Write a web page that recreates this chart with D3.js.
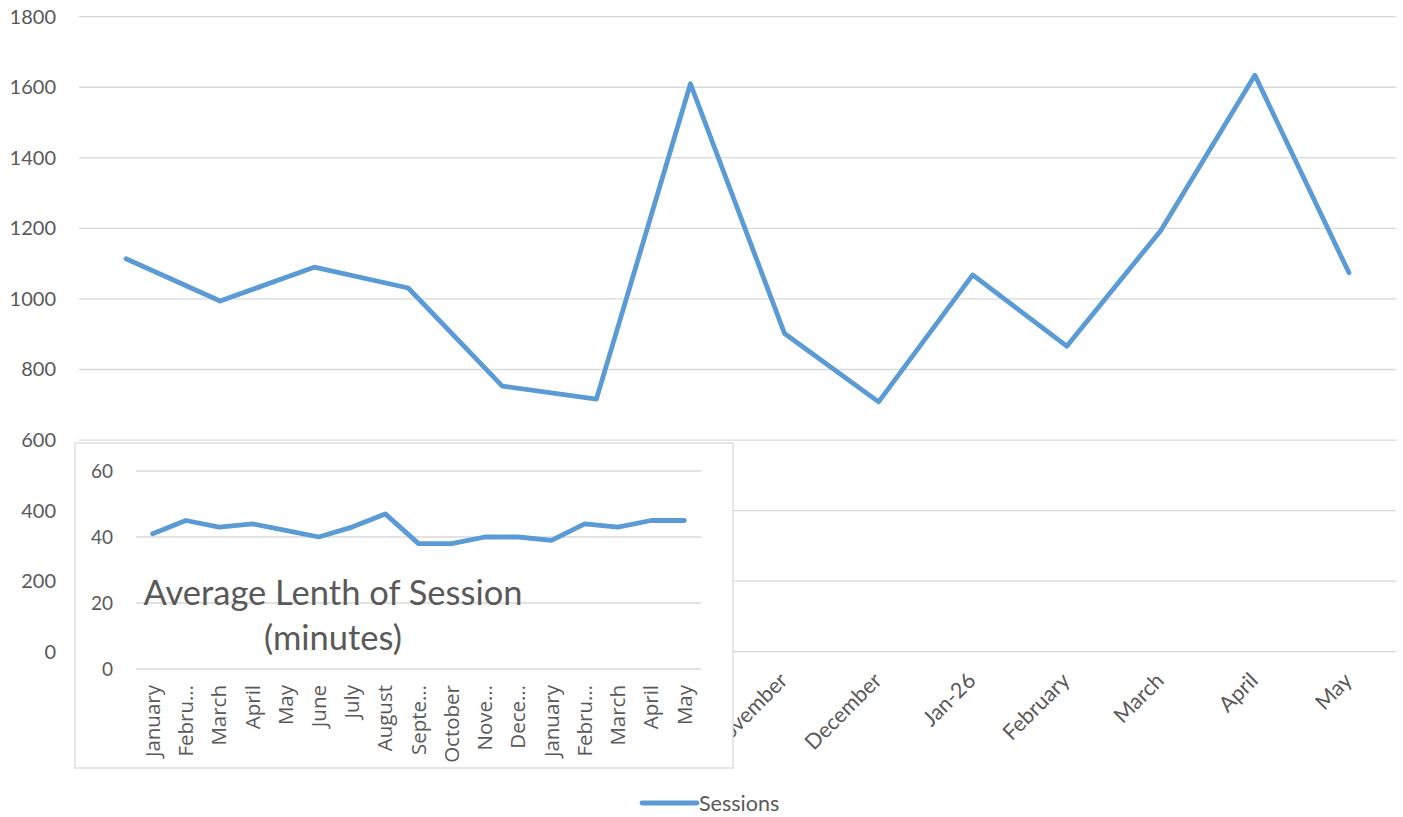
<!DOCTYPE html>
<html>
<head>
<meta charset="utf-8">
<script src="https://cdn.jsdelivr.net/npm/d3@7"></script>
<style>
  html, body { margin: 0; padding: 0; background: #fff; }
  svg { display: block; font-family: Lato, "Open Sans", sans-serif; }
</style>
</head>
<body>
<svg id="chart" width="1403" height="817"></svg>
<script>
// Monthly sessions (April through May of the following year)
const sessionMonths = ["April", "May", "June", "July", "August", "September", "October",
  "November", "December", "Jan-26", "February", "March", "April", "May"];
const sessionValues = [1114, 994, 1090, 1031, 753, 716, 1610, 902, 708, 1068, 866, 1194, 1634, 1074];
const sessionTicks = [0, 200, 400, 600, 800, 1000, 1200, 1400, 1600, 1800];

// Average session length in minutes (January through May of the following year)
const lengthMonths = ["January", "Febru…", "March", "April", "May", "June", "July", "August",
  "Septe…", "October", "Nove…", "Dece…", "January", "Febru…", "March", "April", "May"];
const lengthValues = [41, 45, 43, 44, 42, 40, 43, 47, 38, 38, 40, 40, 39, 44, 43, 45, 45];
const lengthTicks = [0, 20, 40, 60];

const insetTitle = ["Average Lenth of Session", "(minutes)"];
const legendLabel = "Sessions";

const BLUE = "#5b9bd5";
const GRID = "#d9d9d9";
const TEXT = "#595959";

const svg = d3.select("#chart");

// ---------- main chart ----------
const main = { left: 79, right: 1396, top: 16.7, bottom: 651.7 };
const x = d3.scalePoint().domain(d3.range(sessionMonths.length))
  .range([main.left, main.right]).padding(0.5);
const y = d3.scaleLinear().domain([0, 1800]).range([main.bottom, main.top]);

const mainG = svg.append("g");
mainG.append("g").selectAll("line").data(sessionTicks).join("line")
  .attr("x1", main.left).attr("x2", main.right)
  .attr("y1", d => y(d)).attr("y2", d => y(d))
  .attr("stroke", GRID).attr("stroke-width", 1.3);

mainG.append("g").selectAll("text").data(sessionTicks).join("text")
  .attr("x", 56).attr("y", d => y(d)).attr("dy", "0.35em")
  .attr("text-anchor", "end").attr("fill", TEXT).attr("font-size", 20)
  .text(d => d);

mainG.append("g").selectAll("text").data(sessionMonths).join("text")
  .attr("transform", (d, i) => `translate(${x(i) - 1},${main.bottom + 25}) rotate(-45)`)
  .attr("dy", "0.35em").attr("text-anchor", "end")
  .attr("fill", TEXT).attr("font-size", 21.5)
  .text(d => d);

mainG.append("path").datum(sessionValues)
  .attr("fill", "none").attr("stroke", BLUE).attr("stroke-width", 4.8)
  .attr("stroke-linejoin", "round").attr("stroke-linecap", "round")
  .attr("d", d3.line().x((d, i) => x(i)).y(d => y(d)));

// ---------- inset chart ----------
const box = { x: 75, y: 443, w: 658, h: 325 };
const ins = { left: 136, right: 701, top: 471, bottom: 669 };
const xi = d3.scalePoint().domain(d3.range(lengthMonths.length))
  .range([ins.left, ins.right]).padding(0.5);
const yi = d3.scaleLinear().domain([0, 60]).range([ins.bottom, ins.top]);

const inset = svg.append("g");
inset.append("rect")
  .attr("x", box.x).attr("y", box.y).attr("width", box.w).attr("height", box.h)
  .attr("fill", "#fff").attr("stroke", GRID).attr("stroke-width", 1.3);

inset.append("g").selectAll("line").data(lengthTicks).join("line")
  .attr("x1", ins.left).attr("x2", ins.right)
  .attr("y1", d => yi(d)).attr("y2", d => yi(d))
  .attr("stroke", GRID).attr("stroke-width", 1.3);

inset.append("g").selectAll("text").data(lengthTicks).join("text")
  .attr("x", 113).attr("y", d => yi(d)).attr("dy", "0.35em")
  .attr("text-anchor", "end").attr("fill", TEXT).attr("font-size", 19)
  .text(d => d);

inset.append("g").selectAll("text").data(lengthMonths).join("text")
  .attr("transform", (d, i) => `translate(${xi(i)},${ins.bottom + 16}) rotate(-90)`)
  .attr("dy", "0.35em").attr("text-anchor", "end")
  .attr("fill", TEXT).attr("font-size", 20.5)
  .style("font-family", "'Open Sans', sans-serif")
  .text(d => d);

inset.append("path").datum(lengthValues)
  .attr("fill", "none").attr("stroke", BLUE).attr("stroke-width", 4.8)
  .attr("stroke-linejoin", "round").attr("stroke-linecap", "round")
  .attr("d", d3.line().x((d, i) => xi(i)).y(d => yi(d)));

inset.append("text")
  .attr("x", 333).attr("y", 605).attr("text-anchor", "middle")
  .attr("fill", TEXT).attr("font-size", 34.5)
  .selectAll("tspan").data(insetTitle).join("tspan")
  .attr("x", 333).attr("dy", (d, i) => i === 0 ? 0 : 45)
  .text(d => d);

// ---------- legend ----------
const legend = svg.append("g");
legend.append("line")
  .attr("x1", 642).attr("x2", 697).attr("y1", 803).attr("y2", 803)
  .attr("stroke", BLUE).attr("stroke-width", 4.8).attr("stroke-linecap", "round");
legend.append("text")
  .attr("x", 699).attr("y", 810.5)
  .attr("fill", TEXT).attr("font-size", 21.5)
  .text(legendLabel);
</script>
</body>
</html>
